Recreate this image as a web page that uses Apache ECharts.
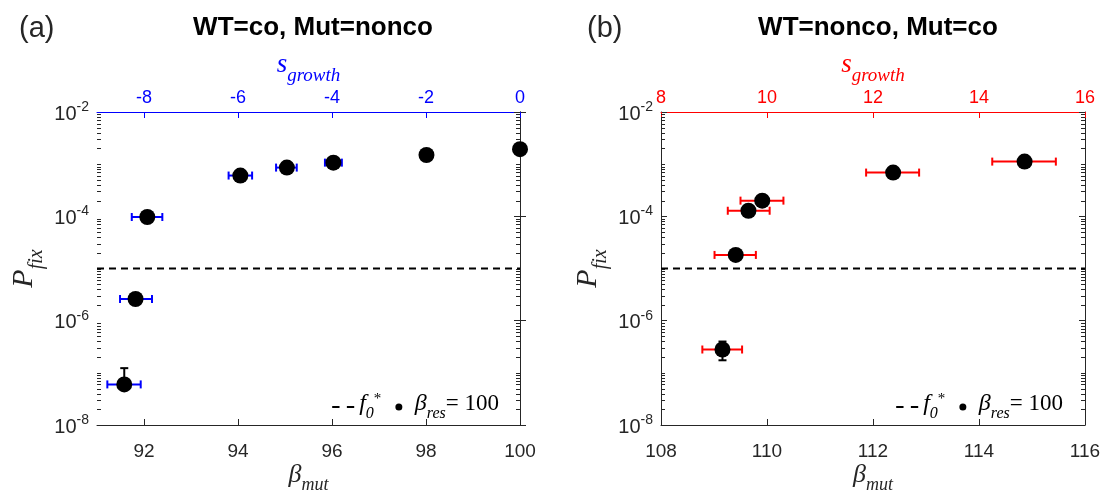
<!DOCTYPE html>
<html>
<head>
<meta charset="utf-8">
<script src="https://cdn.jsdelivr.net/npm/echarts@6/dist/echarts.min.js"></script>
<style>
  html, body { margin: 0; padding: 0; background: #ffffff; }
  #chart { width: 1108px; height: 491px; }
</style>
</head>
<body>
<div id="chart"></div>
<script>
// ---- Panel (a): WT=co, Mut=nonco ----
const betaMutA = [91.58, 91.82, 92.07, 94.05, 95.04, 96.03, 98.01, 100.0];
const pFixA    = [6.0e-8, 2.6e-6, 9.7e-5, 6.05e-4, 8.6e-4, 1.07e-3, 1.5e-3, 1.94e-3];
const betaLoA  = [91.22, 91.49, 91.74, 93.80, 94.81, 95.85, null, null];
const betaHiA  = [91.93, 92.17, 92.39, 94.30, 95.25, 96.21, null, null];
const pLoA     = [null, null, null, null, null, null, null, null];
const pHiA     = [1.23e-7, null, null, null, null, null, null, null];

// ---- Panel (b): WT=nonco, Mut=co ----
const betaMutB = [109.16, 109.41, 109.65, 109.91, 112.38, 114.86];
const pFixB    = [2.8e-7, 1.82e-5, 1.28e-4, 2.0e-4, 6.9e-4, 1.12e-3];
const betaLoB  = [108.78, 109.01, 109.26, 109.50, 111.87, 114.25];
const betaHiB  = [109.53, 109.79, 110.05, 110.31, 112.87, 115.45];
const pLoB     = [1.74e-7, null, null, null, null, null];
const pHiB     = [3.98e-7, null, null, null, null, null];

// threshold f0*
const F0 = 1e-5;

// axis ranges and ticks
const betaRangeA = [91, 100];
const betaRangeB = [108, 116];
const sRangeA = [-9, 0];
const sRangeB = [8, 16];
const betaTicksA = [92, 94, 96, 98, 100];
const sTicksA = [-8, -6, -4, -2, 0];
const betaTicksB = [108, 110, 112, 114, 116];
const sTicksB = [8, 10, 12, 14, 16];
const pTicks = [1e-8, 1e-6, 1e-4, 1e-2];
const pRange = [1e-8, 1e-2];

// minor log ticks (2..9 per decade plus odd decades)
const pMinorTicks = [];
for (let e = -8; e < -2; e++) {
  for (let k = 1; k <= 9; k++) {
    if (k === 1 && e % 2 === 0) continue;
    pMinorTicks.push(k * Math.pow(10, e));
  }
}

const INK = '#262626';
const SANS = '"Liberation Sans", Arial, Helvetica, sans-serif';
const SERIF = '"Liberation Serif", "Times New Roman", serif';

// rich-text styles for an italic symbol with a lowered subscript
function subRich(color, mainSize, subSize, boxH, subH) {
  return {
    m: { fontFamily: SERIF, fontStyle: 'italic', fontSize: mainSize, color: color, lineHeight: boxH, verticalAlign: 'top' },
    s: { fontFamily: SERIF, fontStyle: 'italic', fontSize: subSize, color: color, lineHeight: subH, verticalAlign: 'bottom' }
  };
}

const toNum = v => (v == null ? NaN : v);
function errRows(bx, py, blo, bhi, plo, phi) {
  return bx.map((b, i) => [b, py[i], toNum(blo[i]), toNum(bhi[i]), toNum(plo[i]), toNum(phi[i])]);
}

function errorBarRenderer(hColor) {
  return function (params, api) {
    const x = api.value(0), y = api.value(1);
    const xlo = api.value(2), xhi = api.value(3), ylo = api.value(4), yhi = api.value(5);
    const children = [];
    const cap = 4;
    const hStyle = { stroke: hColor, lineWidth: 2 };
    const vStyle = { stroke: '#000000', lineWidth: 2 };
    const c = api.coord([x, y]);
    if (isFinite(xlo) && isFinite(xhi)) {
      const a = api.coord([xlo, y]), b = api.coord([xhi, y]);
      children.push({ type: 'line', shape: { x1: a[0], y1: a[1], x2: b[0], y2: b[1] }, style: hStyle });
      children.push({ type: 'line', shape: { x1: a[0], y1: a[1] - cap, x2: a[0], y2: a[1] + cap }, style: hStyle });
      children.push({ type: 'line', shape: { x1: b[0], y1: b[1] - cap, x2: b[0], y2: b[1] + cap }, style: hStyle });
    }
    if (isFinite(yhi)) {
      const t = api.coord([x, yhi]);
      children.push({ type: 'line', shape: { x1: c[0], y1: c[1], x2: t[0], y2: t[1] }, style: vStyle });
      children.push({ type: 'line', shape: { x1: t[0] - cap, y1: t[1], x2: t[0] + cap, y2: t[1] }, style: vStyle });
    }
    if (isFinite(ylo)) {
      const t = api.coord([x, ylo]);
      children.push({ type: 'line', shape: { x1: c[0], y1: c[1], x2: t[0], y2: t[1] }, style: vStyle });
      children.push({ type: 'line', shape: { x1: t[0] - cap, y1: t[1], x2: t[0] + cap, y2: t[1] }, style: vStyle });
    }
    return { type: 'group', children };
  };
}

// short inward ticks on both vertical edges of the plot box at a given P value
function minorTickRenderer(params, api) {
  const cs = params.coordSys;
  const y = Math.round(api.coord([api.value(0), api.value(1)])[1]) + 0.5;
  const style = { stroke: INK, lineWidth: 1 };
  const len = 4;
  return {
    type: 'group',
    children: [
      { type: 'line', shape: { x1: cs.x, y1: y, x2: cs.x + len, y2: y }, style },
      { type: 'line', shape: { x1: cs.x + cs.width - len, y1: y, x2: cs.x + cs.width, y2: y }, style }
    ]
  };
}

function bottomAxis(grid, range, ticks) {
  return {
    gridIndex: grid, type: 'value', position: 'bottom', min: range[0], max: range[1],
    axisLine: { show: true, onZero: false, lineStyle: { color: INK, width: 1 } },
    axisTick: { show: true, inside: true, length: 6, customValues: ticks, lineStyle: { color: INK } },
    axisLabel: { customValues: ticks, fontSize: 19, color: INK, fontFamily: SANS, margin: 17 },
    splitLine: { show: false },
    name: '{m|β}{s|mut}', nameLocation: 'middle', nameGap: 37, nameMoveOverlap: false,
    nameTextStyle: { rich: subRich(INK, 26, 18, 32, 18) }
  };
}

function topAxis(grid, range, ticks, color) {
  return {
    gridIndex: grid, type: 'value', position: 'top', min: range[0], max: range[1],
    axisLine: { show: true, onZero: false, lineStyle: { color: color, width: 1 } },
    axisTick: { show: true, inside: true, length: 6, customValues: ticks, lineStyle: { color: color } },
    axisLabel: { customValues: ticks, fontSize: 18, color: color, fontFamily: SANS, margin: 5 },
    splitLine: { show: false },
    name: '{m|s}{s|growth}', nameLocation: 'middle', nameGap: 27, nameMoveOverlap: false,
    nameTextStyle: { rich: subRich(color, 27, 19, 34, 18) }
  };
}

function yAxes(grid) {
  const base = { gridIndex: grid, type: 'log', logBase: 10, min: pRange[0], max: pRange[1], splitLine: { show: false } };
  const line = { show: true, lineStyle: { color: INK, width: 1 } };
  return [
    Object.assign({}, base, {
      position: 'left',
      axisLine: line,
      axisTick: { show: true, inside: true, length: 6, customValues: pTicks, lineStyle: { color: INK } },
      axisLabel: {
        customValues: pTicks, margin: 8, color: INK,
        formatter: v => '{b|10}{e|' + Math.round(Math.log10(v)) + '}',
        rich: {
          b: { fontFamily: SANS, fontSize: 20, color: INK, lineHeight: 24, verticalAlign: 'bottom' },
          e: { fontFamily: SANS, fontSize: 14, color: INK, lineHeight: 14, verticalAlign: 'top' }
        }
      },
      name: '{m|P}{s|fix}', nameLocation: 'middle', nameGap: 50, nameMoveOverlap: false,
      nameTextStyle: { rich: subRich(INK, 30, 20, 38, 20) }
    }),
    Object.assign({}, base, {
      position: 'right',
      axisLine: line,
      axisTick: { show: true, inside: true, length: 6, customValues: pTicks, lineStyle: { color: INK } },
      axisLabel: { show: false }
    })
  ];
}

function panelSeries(grid, bx, py, blo, bhi, plo, phi, range, hColor) {
  const xi = grid * 2;           // bottom x axis of this grid
  const yi = grid * 2;           // left y axis of this grid
  return [
    {
      type: 'custom', xAxisIndex: xi, yAxisIndex: yi,
      data: pMinorTicks.map(v => [range[0], v]),
      encode: { x: 0, y: 1 },
      renderItem: minorTickRenderer,
      clip: false, z: 1, silent: true
    },
    {
      name: 'f0', type: 'line', xAxisIndex: xi, yAxisIndex: yi,
      data: [[range[0], F0], [range[1], F0]],
      symbol: 'none', showSymbol: false,
      itemStyle: { color: '#000000' },
      lineStyle: { color: '#000000', width: 2, type: [7, 5] },
      z: 2, silent: true
    },
    {
      type: 'custom', xAxisIndex: xi, yAxisIndex: yi,
      data: errRows(bx, py, blo, bhi, plo, phi),
      encode: { x: 0, y: 1 },
      renderItem: errorBarRenderer(hColor),
      clip: false, z: 3, silent: true
    },
    {
      name: 'bres', type: 'scatter', xAxisIndex: xi, yAxisIndex: yi,
      data: bx.map((b, i) => [b, py[i]]),
      symbol: 'circle', symbolSize: 16, itemStyle: { color: '#000000', opacity: 1 },
      clip: false, z: 4, silent: true
    }
  ];
}

// legend icon: two short dashes for the f0* threshold
const DASH_ICON = 'path://M0 0H7V2H0Z M14 0H21V2H14Z';

function legendFor(right) {
  return {
    data: [{ name: 'f0', icon: DASH_ICON }, { name: 'bres', icon: 'circle' }],
    right: right, top: 387, orient: 'horizontal',
    itemWidth: 22, itemHeight: 7, itemGap: 14, selectedMode: false,
    itemStyle: { color: '#000000', opacity: 1 },
    formatter: n => n === 'f0' ? '{m|f}{s|0}{sp|*}' : '{m|β}{s|res}{n|= 100}',
    textStyle: {
      color: '#000000',
      rich: Object.assign(subRich('#000000', 24, 16, 30, 16), {
        sp: { fontFamily: SERIF, fontSize: 15, lineHeight: 14, verticalAlign: 'top', color: '#000' },
        n:  { fontFamily: SERIF, fontSize: 23, lineHeight: 30, verticalAlign: 'top', color: '#000' }
      })
    }
  };
}

const chart = echarts.init(document.getElementById('chart'), null, { renderer: 'canvas' });
chart.setOption({
  animation: false,
  backgroundColor: '#ffffff',
  title: [
    { text: '(a)', left: 14, top: 9, textStyle: { fontFamily: SANS, fontSize: 29, fontWeight: 'normal', color: INK } },
    { text: 'WT=co, Mut=nonco', left: 308, top: 10, textAlign: 'center',
      textStyle: { fontFamily: SANS, fontSize: 26, fontWeight: 'bold', color: '#000' } },
    { text: '(b)', left: 582, top: 9, textStyle: { fontFamily: SANS, fontSize: 29, fontWeight: 'normal', color: INK } },
    { text: 'WT=nonco, Mut=co', left: 873, top: 10, textAlign: 'center',
      textStyle: { fontFamily: SANS, fontSize: 26, fontWeight: 'bold', color: '#000' } }
  ],
  grid: [
    { left: 97, top: 112, width: 423, height: 313, outerBoundsMode: 'none', containLabel: false },
    { left: 661, top: 112, width: 424, height: 313, outerBoundsMode: 'none', containLabel: false }
  ],
  xAxis: [
    bottomAxis(0, betaRangeA, betaTicksA),
    topAxis(0, sRangeA, sTicksA, '#0000ff'),
    bottomAxis(1, betaRangeB, betaTicksB),
    topAxis(1, sRangeB, sTicksB, '#ff0000')
  ],
  yAxis: yAxes(0).concat(yAxes(1)),
  legend: [legendFor(604), legendFor(40)],
  series: [].concat(
    panelSeries(0, betaMutA, pFixA, betaLoA, betaHiA, pLoA, pHiA, betaRangeA, '#0000ff'),
    panelSeries(1, betaMutB, pFixB, betaLoB, betaHiB, pLoB, pHiB, betaRangeB, '#ff0000')
  )
});
</script>
</body>
</html>
